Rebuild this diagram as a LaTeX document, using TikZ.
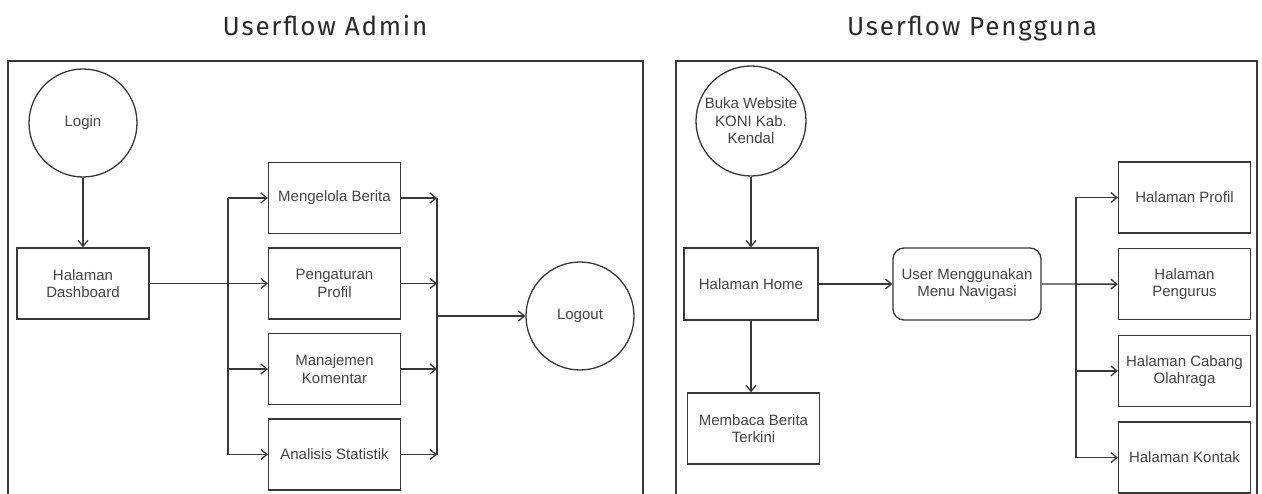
\documentclass[tikz,border=0pt]{standalone}
\usepackage{fontspec}
\setmainfont{Liberation Sans}
\newfontfamily\titlefont[LetterSpace=7]{Fira Sans}
\usetikzlibrary{arrows.meta,positioning}

\definecolor{linegray}{HTML}{383838}
\definecolor{textgray}{HTML}{444444}
\definecolor{titlegray}{HTML}{2A2A2A}

\begin{document}
\begin{tikzpicture}[x=1pt, y=-1pt, node distance=85.5pt,
    box/.style={rectangle, draw=linegray, line width=1.3pt, minimum width=132pt, minimum height=71pt, inner sep=2pt, align=center, text=textgray, font=\fontsize{15}{17.5}\selectfont},
    startend/.style={circle, draw=linegray, line width=1.3pt, minimum size=108pt, inner sep=0pt, align=center, text=textgray, font=\fontsize{15}{17.5}\selectfont},
    menu/.style={box, rounded corners=11pt, minimum width=148pt, minimum height=72pt},
    arr/.style={draw=linegray, line width=1.3pt, -{Straight Barb[length=6pt,width=10pt]}},
    line/.style={draw=linegray, line width=1.3pt},
    frame/.style={draw=linegray, line width=1.2pt},
    title/.style={font=\titlefont\fontsize{26}{30}\selectfont, text=titlegray, anchor=base}]
    \useasboundingbox (0,0) rectangle (1262,494);

    % Titles
    \node[title] (tadmin) at (325,36) {Userflow Admin};
    \node[title] (tuser) at (972,36) {Userflow Pengguna};

    % Frames
    \draw[frame] (8,494) |- (643,61) -- (643,494);
    \draw[frame] (676,494) |- (1257,61) -- (1257,494);

    % Admin flow
    \node[startend] (login) at (83,123) {Login};
    \node[box] (dash) at (83,283.5) {Halaman\\Dashboard};
    \node[box] (berita) at (334.5,198) {Mengelola Berita};
    \node[box, below of=berita] (pengaturan) {Pengaturan\\Profil};
    \node[box, below of=pengaturan] (komentar) {Manajemen\\Komentar};
    \node[box, below of=komentar] (statistik) {Analisis Statistik};
    \node[startend] (logout) at (580,316) {Logout};
    \coordinate (splitA) at (228,0);
    \coordinate (joinA) at (437,0);

    % Admin connections
    \draw[arr] (login) -- (dash);
    \draw[arr] (dash) -- (pengaturan);
    \draw[line] (splitA |- berita) -- (splitA |- statistik);
    \foreach \n in {berita,komentar,statistik}
        \draw[arr] (splitA |- \n) -- (\n);
    \foreach \n in {berita,pengaturan,komentar,statistik}
        \draw[arr] (\n) -- (joinA |- \n);
    \draw[line] (joinA |- berita) -- (joinA |- statistik);
    \draw[arr] (joinA |- logout) -- (logout);

    % Pengguna flow
    \node[startend, minimum size=110pt] (buka) at (751,121) {Buka Website\\KONI Kab.\\Kendal};
    \node[box, minimum width=134pt, minimum height=72pt] (home) at (751,284) {Halaman Home};
    \node[box] (membaca) at (753.5,428.5) {Membaca Berita\\Terkini};
    \node[menu] (navigasi) at (967,284) {User Menggunakan\\Menu Navigasi};
    \node[box] (hprofil) at (1184.5,197.5) {Halaman Profil};
    \node[box, below of=hprofil, node distance=86.7pt] (pengurus) {Halaman\\Pengurus};
    \node[box, below of=pengurus, node distance=86.7pt] (cabang) {Halaman Cabang\\Olahraga};
    \node[box, below of=cabang, node distance=86.7pt] (kontak) {Halaman Kontak};
    \coordinate (splitB) at (1076,0);

    % Pengguna connections
    \draw[arr] (buka) -- (home);
    \draw[arr] (home) -- (home |- membaca.north);
    \draw[arr] (home) -- (navigasi);
    \draw[arr] (navigasi) -- (pengurus);
    \draw[line] (splitB |- hprofil) -- (splitB |- kontak);
    \foreach \n in {hprofil,cabang,kontak}
        \draw[arr] (splitB |- \n) -- (\n);
\end{tikzpicture}
\end{document}
